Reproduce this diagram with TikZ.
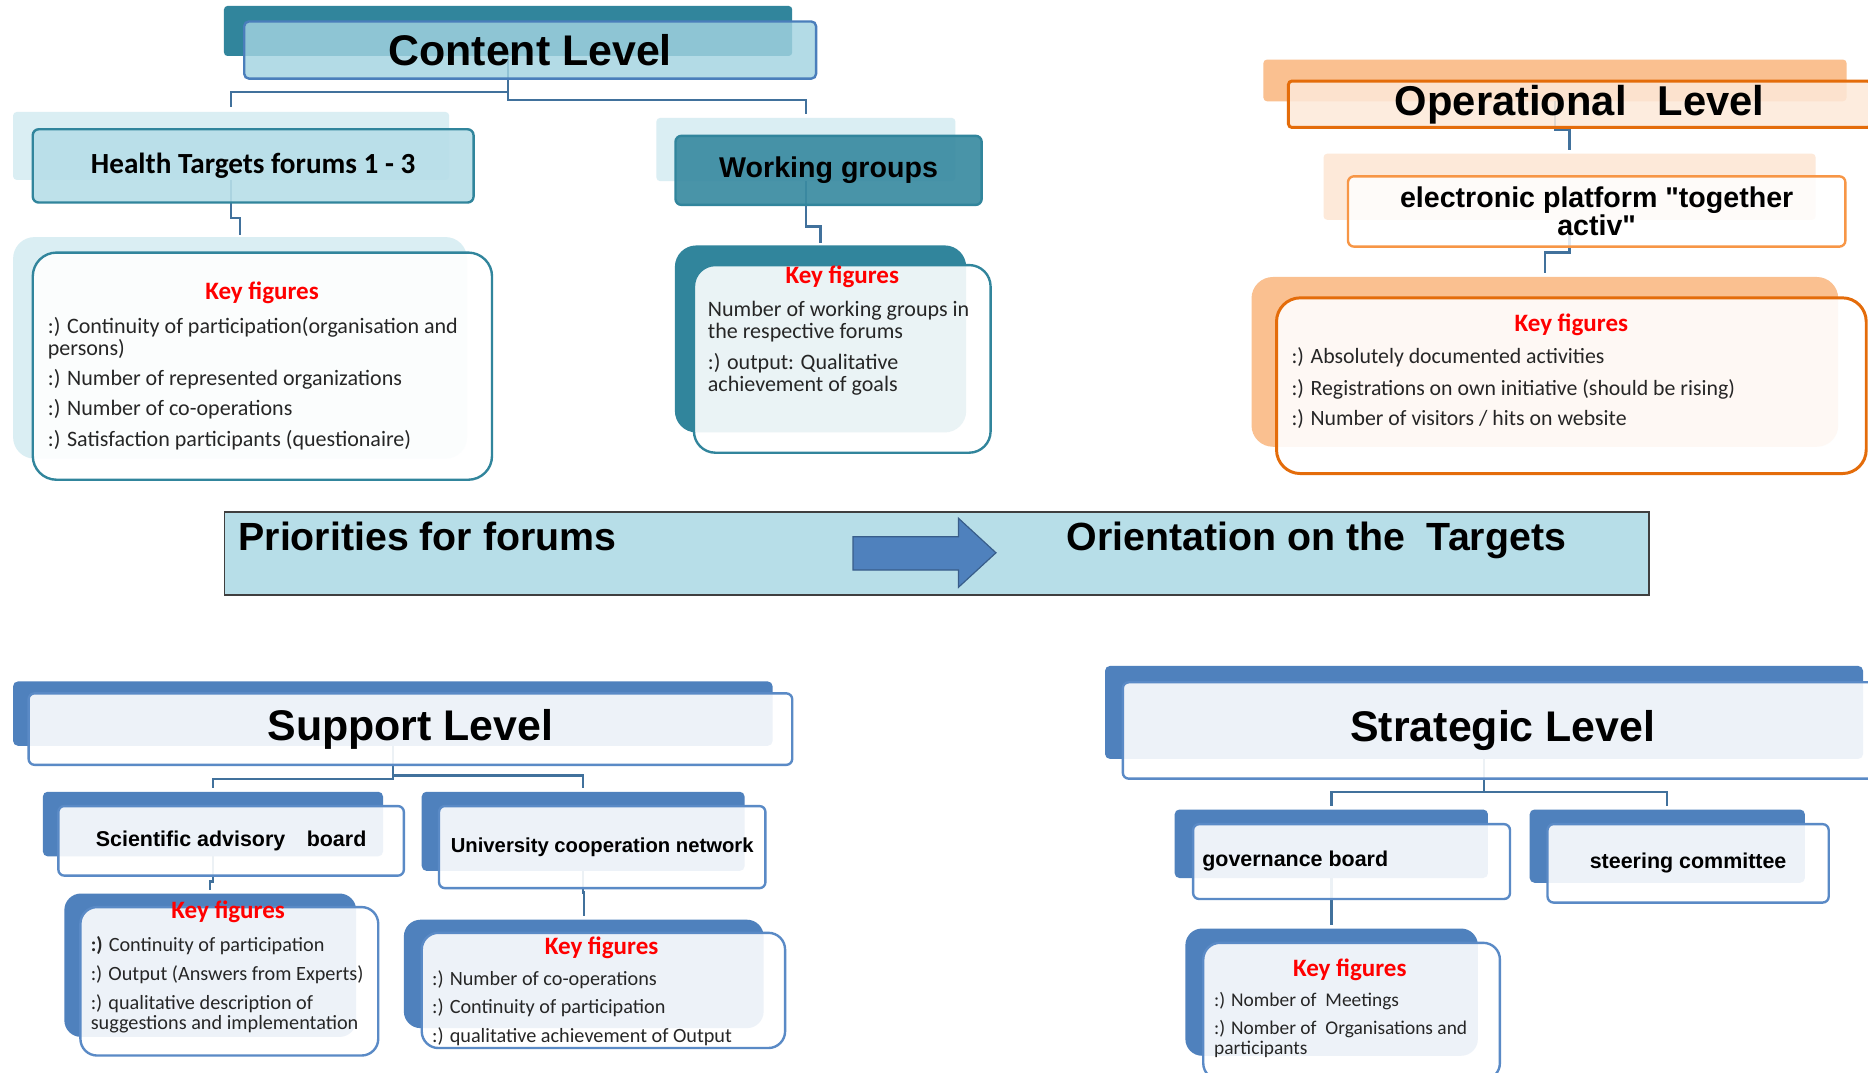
\documentclass[tikz,border=0pt]{standalone}
\usepackage{fontspec}
\setmainfont{Carlito}
\newfontfamily\arialf{Liberation Sans}
\definecolor{tealD}{HTML}{31859C}
\definecolor{tealL}{HTML}{DAEEF3}
\definecolor{lblue}{HTML}{B7DEE8}
\definecolor{cfront}{HTML}{A3D4E1}
\definecolor{cborder}{HTML}{4A7EBB}
\definecolor{wgfill}{HTML}{3A8BA1}
\definecolor{orangeD}{HTML}{E46C0A}
\definecolor{orangeL}{HTML}{F79646}
\definecolor{peach}{HTML}{FAC090}
\definecolor{peachL}{HTML}{FDE9D9}
\definecolor{blueM}{HTML}{4F81BD}
\definecolor{blueB}{HTML}{5A8AC6}
\definecolor{blueD}{HTML}{385D8A}
\definecolor{connC}{HTML}{41719C}
\definecolor{txt}{HTML}{262626}
\definecolor{bannerB}{HTML}{3F3F3F}
\newcommand{\hdA}{\arialf\bfseries\fontsize{35}{40}\selectfont}
\newcommand{\hdB}{\arialf\bfseries\fontsize{33}{38}\selectfont}
\newcommand{\hdC}{\arialf\bfseries\fontsize{24}{23}\selectfont}
\newcommand{\hdD}{\arialf\bfseries\fontsize{18}{20}\selectfont}
\newcommand{\hdE}{\arialf\bfseries\fontsize{17}{20}\selectfont}
\newcommand{\kfhead}{\bfseries\fontsize{21}{22}\selectfont}
\newcommand{\kfA}{\fontsize{18.5}{18}\selectfont}
\newcommand{\kfB}{\fontsize{18.3}{17}\selectfont}
\newcommand{\kfC}{\fontsize{17}{17}\selectfont}
\newcommand{\kfD}{\fontsize{16.3}{17}\selectfont}
\tikzset{
  sh/.style={anchor=north west, inner sep=0pt, outer sep=0pt},
  fr/.style={anchor=north west, inner sep=0pt, outer sep=0pt, line width=2pt, text opacity=1, align=center, text=black},
  conn/.style={draw=connC, line width=2pt},
  kfh/.style={text=red, font=\kfhead, inner sep=0pt},
  kft/.style={anchor=base west, inner sep=0pt, text=txt},
}
\begin{document}
\begin{tikzpicture}[x=1pt,y=-1pt]
\clip (0,0) rectangle (1568,900);
\fill[white] (0,0) rectangle (1568,900);

% ---------- shadows ----------
\node[sh, fill=tealD, rounded corners=3pt, minimum width=477pt, minimum height=42pt] (cls) at (188,5) {};
\node[sh, fill=tealL, rounded corners=3pt, minimum width=366pt, minimum height=57pt] (hts) at (11,94) {};
\node[sh, fill=tealL, rounded corners=3pt, minimum width=251pt, minimum height=53pt] (wgs) at (551,99) {};
\node[sh, fill=tealL, rounded corners=18pt, minimum width=381pt, minimum height=186pt] (htks) at (11,199) {};
\node[sh, fill=tealD, rounded corners=18pt, minimum width=244.5pt, minimum height=157pt] (wgks) at (566.5,206) {};
\node[sh, fill=peach, rounded corners=3pt, minimum width=489.5pt, minimum height=35pt] (ops) at (1060.5,50) {};
\node[sh, fill=peachL, rounded corners=3pt, minimum width=413pt, minimum height=55.5pt] (eps) at (1111,129) {};
\node[sh, fill=peach, rounded corners=18pt, minimum width=492.5pt, minimum height=142.5pt] (opks) at (1050.5,232.5) {};
\node[sh, fill=blueM, rounded corners=4pt, minimum width=637.5pt, minimum height=54pt] (sls) at (11,572) {};
\node[sh, fill=blueM, rounded corners=4pt, minimum width=285.5pt, minimum height=54.2pt] (sabs) at (36,664.6) {};
\node[sh, fill=blueM, rounded corners=4pt, minimum width=271pt, minimum height=66.4pt] (ucns) at (354,664.6) {};
\node[sh, fill=blueM, rounded corners=14pt, minimum width=245pt, minimum height=120.4pt] (sabks) at (54,750) {};
\node[sh, fill=blueM, rounded corners=14pt, minimum width=302pt, minimum height=91pt] (ucnks) at (339,772) {};
\node[sh, fill=blueM, rounded corners=4pt, minimum width=636.2pt, minimum height=78pt] (sts) at (927.6,559) {};
\node[sh, fill=blueM, rounded corners=4pt, minimum width=263pt, minimum height=57.5pt] (gbs) at (986,679.5) {};
\node[sh, fill=blueM, rounded corners=4pt, minimum width=231pt, minimum height=61.5pt] (scs) at (1284,679.5) {};
\node[sh, fill=blueM, rounded corners=14pt, minimum width=245.5pt, minimum height=106.8pt] (gbks) at (995,779.4) {};

% ---------- connectors ----------
\draw[conn, shorten >=4pt] (cls.south) -- ++(0,30) -| (hts.north);
\draw[conn, shorten >=3pt] (cls.south) -- ++(0,37) -| (wgs.north);
\draw[conn, shorten >=2pt] (hts.south) -- ++(0,32) -| (htks.north);
\draw[conn, shorten >=2pt] (wgs.south) -- ++(0,38) -| (wgks.north);
\draw[conn, shorten >=3pt] (ops.south) -- ++(0,24) -| (eps.north);
\draw[conn, shorten >=3pt] (eps.south) -- ++(0,27.5) -| (opks.north);
\draw[conn, shorten >=3.5pt] (sls.south) -- ++(0,28) -| (sabs.north);
\draw[conn, shorten >=3.5pt] (sls.south) -- ++(0,25) -| (ucns.north);
\draw[conn, shorten >=3pt] (sabs.south) -- ++(0,21) -| (sabks.north);
\draw[conn, shorten >=3pt] (ucns.south) -- ++(0,18) -| (ucnks.north);
\draw[conn, shorten >=3pt] (sts.south) -- ++(0,28) -| (gbs.north);
\draw[conn, shorten >=3pt] (sts.south) -- ++(0,28) -| (scs.north);
\draw[conn, shorten >=3pt] (gbs.south) -- ++(0,20) -| (gbks.north);

% ---------- front boxes ----------
\node[fr, fill=cfront, fill opacity=0.82, draw=cborder, rounded corners=4pt, minimum width=480pt, minimum height=48pt, font=\arialf\bfseries\fontsize{36}{40}\selectfont] (cl) at (205,18) {Content Level};
\node[fr, fill=lblue, fill opacity=0.9, draw=tealD, rounded corners=5pt, minimum width=370pt, minimum height=61.5pt, font=\bfseries\fontsize{24.5}{26}\selectfont] (ht) at (27.5,108.5) {Health Targets forums 1 - 3};
\node[fr, fill=wgfill, fill opacity=0.92, draw=tealD, rounded corners=5pt, minimum width=257pt, minimum height=58pt, font=\hdC] (wg) at (567,114) {Working groups};
\node[fr, fill=white, fill opacity=0.9, draw=tealD, rounded corners=20pt, minimum width=385.5pt, minimum height=190.7pt] (htk) at (27.5,212) {};
\node[fr, fill=white, fill opacity=0.9, draw=tealD, rounded corners=18pt, minimum width=249pt, minimum height=157.5pt] (wgk) at (582.5,222.5) {};
\node[fr, fill=peachL, fill opacity=0.85, draw=orangeD, line width=2.5pt, rounded corners=3pt, minimum width=489pt, minimum height=39pt, font=\hdA] (op) at (1081.5,68) {Operational\hspace{0.75em}Level};
\node[fr, fill=white, fill opacity=0.85, draw=orangeL, rounded corners=5pt, minimum width=417.5pt, minimum height=59pt, font=\hdC] (ep) at (1131.5,148) {electronic platform "together\\activ"};
\node[fr, fill=white, fill opacity=0.9, draw=orangeD, line width=2.5pt, rounded corners=20pt, minimum width=495pt, minimum height=147.5pt] (opk) at (1071.5,250) {};
\node[fr, fill=white, fill opacity=0.9, draw=blueB, rounded corners=5pt, minimum width=641pt, minimum height=60pt, font=\arialf\bfseries\fontsize{36}{40}\selectfont] (sl) at (24,582) {Support Level};
\node[fr, fill=white, fill opacity=0.9, draw=blueB, rounded corners=5pt, minimum width=290pt, minimum height=58.4pt, font=\hdD] (sab) at (49,676.6) {Scientific advisory\hspace{18pt}board};
\node[fr, fill=white, fill opacity=0.9, draw=blueB, rounded corners=5pt, minimum width=274pt, minimum height=68.9pt, font=\hdE] (ucn) at (368.5,676.6) {University cooperation network};
\node[fr, fill=white, fill opacity=0.9, draw=blueB, rounded corners=14pt, minimum width=250pt, minimum height=124.6pt] (sabk) at (67.5,761.4) {};
\node[fr, fill=white, fill opacity=0.9, draw=blueB, rounded corners=14pt, minimum width=305pt, minimum height=96.7pt] (ucnk) at (354,783) {};
\node[fr, fill=white, fill opacity=0.9, draw=blueB, rounded corners=5pt, minimum width=638pt, minimum height=80.9pt, font=\arialf\bfseries\fontsize{36}{40}\selectfont] (st) at (942.5,572.7) {Strategic Level};
\node[fr, fill=white, fill opacity=0.9, draw=blueB, rounded corners=5pt, minimum width=266pt, minimum height=62.8pt] (gb) at (1001.5,691.8) {};
\node[fr, fill=white, fill opacity=0.9, draw=blueB, rounded corners=5pt, minimum width=236pt, minimum height=65.8pt, font=\hdD] (sc) at (1299,691.8) {steering committee};
\node[fr, fill=white, fill opacity=0.9, draw=blueB, rounded corners=14pt, minimum width=249pt, minimum height=115pt] (gbk) at (1010,791.4) {};
\node[anchor=west, inner sep=0pt, font=\hdD] (gbt) at (1009,723) {governance board};

% ---------- banner ----------
\node[sh, fill=lblue, draw=bannerB, line width=1.5pt, minimum width=1195.5pt, minimum height=70pt] (banner) at (188.5,429.5) {};
\node[anchor=base west, inner sep=0pt, font=\hdB] (prio) at (200,462) {Priorities for forums};
\node[anchor=base west, inner sep=0pt, font=\hdB] (orient) at (895,462) {Orientation on the\ \ Targets};
\filldraw[fill=blueM, draw=blueD, line width=1pt, line join=miter] (716,450.5) -- (804.5,450.5) -- (804.5,435) -- (836,464) -- (804.5,493) -- (804.5,478.5) -- (716,478.5) -- cycle;

% ---------- key figures: health ----------
\node[kfh] (htkh) at (220,246) {Key figures};
\node[kft, font=\kfA] (htk1) at (40,280) {:) Continuity of participation(organisation and};
\node[kft, font=\kfA] (htk2) at (40,298) {persons)};
\node[kft, font=\kfA] (htk3) at (40,323.5) {:) Number of represented organizations};
\node[kft, font=\kfA] (htk4) at (40,349) {:) Number of co-operations};
\node[kft, font=\kfA] (htk5) at (40,375) {:) Satisfaction participants (questionaire)};

% ---------- key figures: working groups ----------
\node[kfh] (wgkh) at (707,232) {Key figures};
\node[kft, font=\kfA] (wgk1) at (594,266) {Number of working groups in};
\node[kft, font=\kfA] (wgk2) at (594,284) {the respective forums};
\node[kft, font=\kfA] (wgk3) at (594,310) {:) output: Qualitative};
\node[kft, font=\kfA] (wgk4) at (594,329) {achievement of goals};

% ---------- key figures: operational ----------
\node[kfh] (opkh) at (1319,272.6) {Key figures};
\node[kft, font=\kfB] (opk1) at (1084,305) {:) Absolutely documented activities};
\node[kft, font=\kfB] (opk2) at (1084,332) {:) Registrations on own initiative (should be rising)};
\node[kft, font=\kfB] (opk3) at (1084,357) {:) Number of visitors / hits on website};

% ---------- key figures: scientific board ----------
\node[kfh] (sabkh) at (191.5,765.6) {Key figures};
\node[kft, font=\kfC] (sabk1) at (76,799) {\textbf{:)} Continuity of participation};
\node[kft, font=\kfC] (sabk2) at (76,823) {:) Output (Answers from Experts)};
\node[kft, font=\kfC] (sabk3) at (76,847) {:) qualitative description of};
\node[kft, font=\kfC] (sabk4) at (76,864) {suggestions and implementation};

% ---------- key figures: university network ----------
\node[kfh] (ucnkh) at (505,795.7) {Key figures};
\node[kft, font=\kfC] (ucnk1) at (362.5,827) {:) Number of co-operations};
\node[kft, font=\kfC] (ucnk2) at (362.5,851) {:) Continuity of participation};
\node[kft, font=\kfC] (ucnk3) at (362.5,875) {:) qualitative achievement of Output};

% ---------- key figures: governance board ----------
\node[kfh] (gbkh) at (1133,813.8) {Key figures};
\node[kft, font=\kfD] (gbk1) at (1019,845) {:) Nomber of\ \ Meetings};
\node[kft, font=\kfD] (gbk2) at (1019,868) {:) Nomber of\ \ Organisations and};
\node[kft, font=\kfD] (gbk3) at (1019,885) {participants};
\end{tikzpicture}
\end{document}
